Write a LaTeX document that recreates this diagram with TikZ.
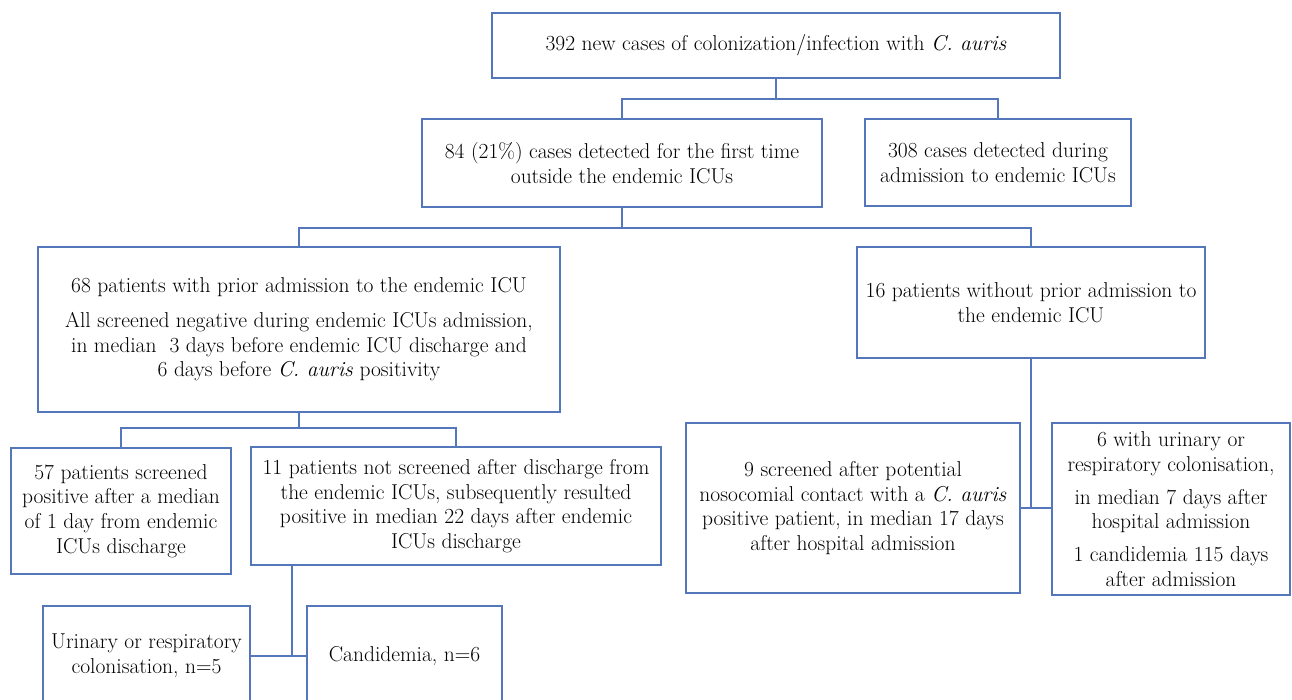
\documentclass[tikz,border=0pt]{standalone}
\usepackage{fontspec}
\definecolor{boxblue}{RGB}{84,118,186}
\begin{document}
\begin{tikzpicture}[x=1pt,y=-1pt,
  box/.style={draw=boxblue, line width=1.4pt, rectangle, align=center, inner sep=2pt,
    font=\fontsize{21.5}{24.7}\selectfont},
  conn/.style={draw=boxblue, line width=1.4pt}]
\useasboundingbox (0,0) rectangle (1292,699);
\fill[white] (0,0) rectangle (1292,699);

\node[box, minimum width=568pt, minimum height=65pt] (top) at (776,45.5)
  {392 new cases of colonization/infection with \textit{C. auris}};
\node[box, minimum width=400pt, minimum height=88pt] (b84) at (622,163)
  {84 (21\%) cases detected for the first time\\outside the endemic ICUs};
\node[box, minimum width=266pt, minimum height=87pt] (b308) at (998,162.5)
  {308 cases detected during\\admission to endemic ICUs};
\node[box, minimum width=522pt, minimum height=165pt] (b68) at (299,329.5)
  {68 patients with prior admission to the endemic ICU\\[10pt]
   All screened negative during endemic ICUs admission,\\
   in median\ \ 3 days before endemic ICU discharge and\\
   6 days before \textit{C. auris} positivity};
\node[box, minimum width=348pt, minimum height=111pt] (b16) at (1031,302.5)
  {16 patients without prior admission to\\the endemic ICU};
\node[box, minimum width=220pt, minimum height=126pt] (b57) at (121,511)
  {57 patients screened\\positive after a median\\of 1 day from endemic\\ICUs discharge};
\node[box, minimum width=410pt, minimum height=118pt] (b11) at (456,506)
  {11 patients not screened after discharge from\\the endemic ICUs, subsequently resulted\\positive in median 22 days after endemic\\ICUs discharge};
\node[box, minimum width=334pt, minimum height=170pt] (b9) at (853,508)
  {9 screened after potential\\nosocomial contact with a \textit{C. auris}\\positive patient, in median 17 days\\after hospital admission};
\node[box, minimum width=238pt, minimum height=172pt] (b6) at (1171,509)
  {6 with urinary or\\respiratory colonisation,\\[8pt]in median 7 days after\\hospital admission\\[8pt]1 candidemia 115 days\\after admission};
\node[box, minimum width=207pt, minimum height=100pt] (bur) at (146.5,656)
  {Urinary or respiratory\\colonisation, n=5};
\node[box, minimum width=195pt, minimum height=100pt] (cand) at (404.5,656)
  {Candidemia, n=6};

\coordinate (j1) at (776,99);
\coordinate (j2) at (622,228);
\coordinate (j3) at (299,428);
\coordinate (j4) at (292,656);
\coordinate (j5) at (1031,508);

\draw[conn] (top.south) -- (j1);
\draw[conn] (j1) -| (b84.north);
\draw[conn] (j1) -| (b308.north);
\draw[conn] (b84.south) -- (j2);
\draw[conn] (j2) -| (b68.north);
\draw[conn] (j2) -| (b16.north);
\draw[conn] (b68.south) -- (j3);
\draw[conn] (j3) -| (b57.north);
\draw[conn] (j3) -| (b11.north);
\draw[conn] (b11.south -| j4) -- (j4);
\draw[conn] (bur.east) -- (cand.west);
\draw[conn] (b16.south) -- (j5);
\draw[conn] (b9.east) -- (b9.east -| b6.west);
\end{tikzpicture}
\end{document}
